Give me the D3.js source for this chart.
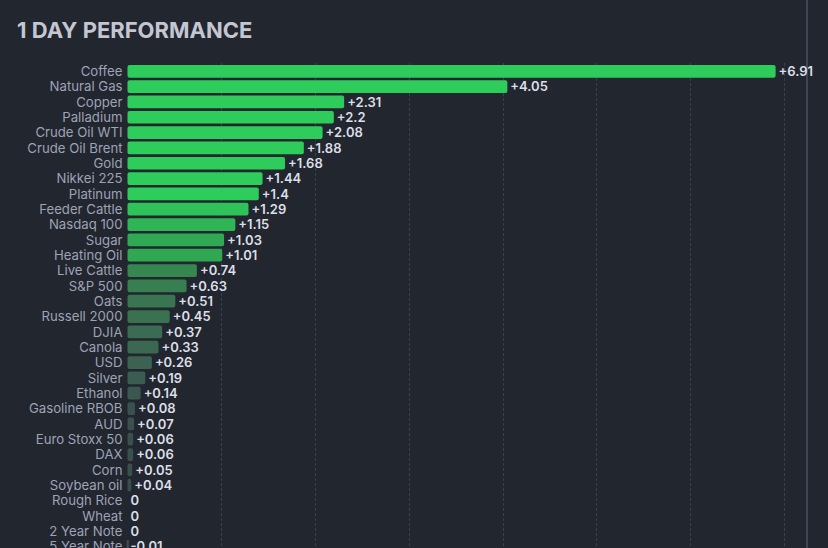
<!DOCTYPE html>
<html>
<head>
<meta charset="utf-8">
<script src="https://cdn.jsdelivr.net/npm/d3@7"></script>
<style>
  html, body { margin: 0; padding: 0; background: #22262f; overflow: hidden; }
  svg { display: block; font-family: Inter, "Noto Sans", sans-serif; }
</style>
</head>
<body>
<div id="chart"></div>
<script>
// --- Daten ---------------------------------------------------------------- //

var names = ['Coffee', 'Natural Gas', 'Copper', 'Palladium', 'Crude Oil WTI', 'Crude Oil Brent',
    'Gold', 'Nikkei 225', 'Platinum', 'Feeder Cattle', 'Nasdaq 100', 'Sugar', 'Heating Oil',
    'Live Cattle', 'S&P 500', 'Oats', 'Russell 2000', 'DJIA', 'Canola', 'USD', 'Silver', 'Ethanol',
    'Gasoline RBOB', 'AUD', 'Euro Stoxx 50', 'DAX', 'Corn', 'Soybean oil', 'Rough Rice', 'Wheat',
    '2 Year Note', '5 Year Note'];

var values = [6.91, 4.05, 2.31, 2.2, 2.08, 1.88, 1.68, 1.44, 1.4, 1.29, 1.15, 1.03, 1.01,
    0.74, 0.63, 0.51, 0.45, 0.37, 0.33, 0.26, 0.19, 0.14, 0.08, 0.07, 0.06, 0.06, 0.05, 0.04,
    0, 0, 0, -0.01];

var gridTicks = [1, 2, 3, 4, 5, 6, 7];

var title = '1 DAY PERFORMANCE';

// --- Zeichnen ------------------------------------------------------------- //

var width = 828, height = 548;

var svg = d3.select('#chart').append('svg')
    .attr('width', width)
    .attr('height', height);

// card border (right edge with rounded top corner)
svg.append('path')
    .attr('d', 'M780,-6 H799 Q807,-6 807,2 V' + height)
    .attr('fill', 'none')
    .attr('stroke', '#4b5063')
    .attr('stroke-width', 1.5);

svg.append('text')
    .attr('x', 17)
    .attr('y', 38)
    .attr('fill', '#c4c7d2')
    .attr('font-size', 22)
    .attr('font-weight', 700)
    .text(title);

var x = d3.scaleLinear().domain([0, 7.25]).range([127.5, 807.5]);

var y = d3.scaleBand()
    .domain(names)
    .range([63.6, 63.6 + names.length * 15.33])
    .paddingInner(0.17)
    .paddingOuter(0.085);

var color = d3.scaleLinear()
    .domain([0, 0.3, 0.75, 1.0, 1.4])
    .range(['#394b4c', '#3c6652', '#35874f', '#30a653', '#2ecc5b'])
    .clamp(true);

// gridlines
svg.append('g')
    .selectAll('line')
    .data(gridTicks)
    .join('line')
    .attr('x1', function (d) { return Math.round(x(d)) + 0.5; })
    .attr('x2', function (d) { return Math.round(x(d)) + 0.5; })
    .attr('y1', 63)
    .attr('y2', height)
    .attr('stroke', '#3b4050')
    .attr('stroke-width', 1)
    .attr('stroke-dasharray', '3,2');

var rows = svg.append('g')
    .selectAll('g')
    .data(names)
    .join('g');

rows.append('rect')
    .attr('x', function (d, i) { return x(Math.min(0, values[i])); })
    .attr('y', function (d) { return y(d); })
    .attr('width', function (d, i) { return Math.abs(x(values[i]) - x(0)); })
    .attr('height', y.bandwidth())
    .attr('rx', 2)
    .attr('fill', function (d, i) { return color(values[i]); });

// zero line for negative values
rows.filter(function (d, i) { return values[i] < 0; })
    .append('line')
    .attr('x1', x(0) + 0.5)
    .attr('x2', x(0) + 0.5)
    .attr('y1', function (d) { return y(d); })
    .attr('y2', function (d) { return y(d) + y.bandwidth(); })
    .attr('stroke', '#5a6070');

rows.append('text')
    .attr('x', 122.5)
    .attr('y', function (d) { return y(d) + y.bandwidth() / 2; })
    .attr('dy', '0.36em')
    .attr('text-anchor', 'end')
    .attr('fill', '#9ea3b6')
    .attr('font-size', 13.2)
    .text(function (d) { return d; });

rows.append('text')
    .attr('x', function (d, i) { return x(Math.max(0, values[i])) + 3; })
    .attr('y', function (d) { return y(d) + y.bandwidth() / 2; })
    .attr('dy', '0.36em')
    .attr('fill', '#dcdfe7')
    .attr('font-size', 13)
    .attr('font-weight', 600)
    .text(function (d, i) {
        var v = values[i];
        return v > 0 ? '+' + v : (v === 0 ? '0' : String(v));
    });
</script>
</body>
</html>
